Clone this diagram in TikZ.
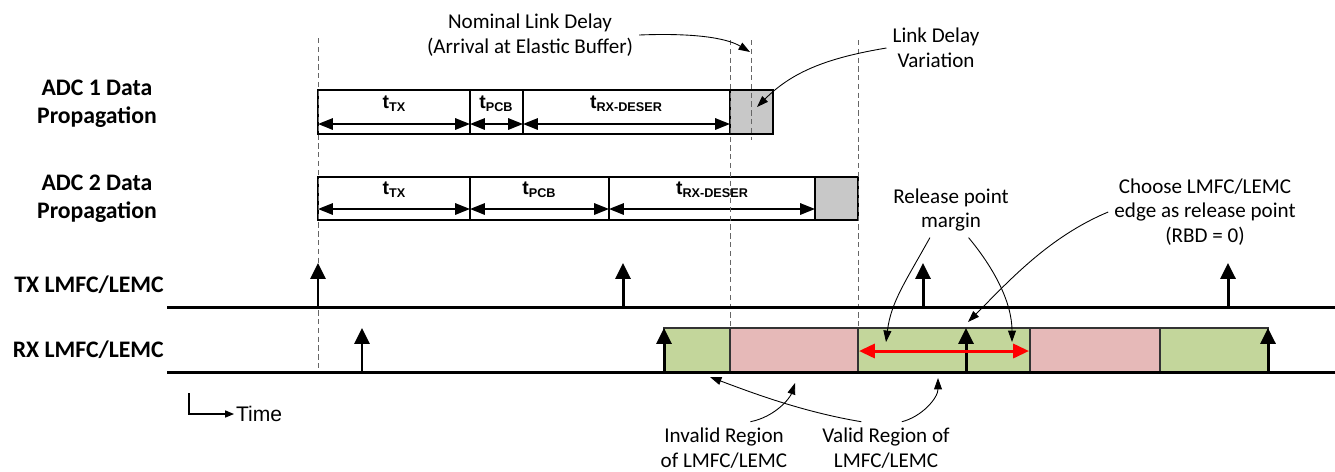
\documentclass[tikz,border=0pt]{standalone}
\usepackage{fontspec}
\setmainfont{Carlito}
\newfontfamily\arialfont{Liberation Sans}
\usetikzlibrary{arrows.meta}

\definecolor{validgreen}{HTML}{C3D69B}
\definecolor{invalidred}{HTML}{E6B9B8}
\definecolor{delaygray}{HTML}{C8C8C8}

% t with a bold subscript, as in the boxes
\newcommand{\tlbl}[1]{{\arialfont\bfseries\fontsize{11}{12}\selectfont t\raisebox{-0.3ex}{\fontsize{7.2}{8}\selectfont #1}}}

\tikzset{
  guide/.style={black!60, line width=0.5pt, dash pattern=on 3pt off 2pt},
  span/.style={{Triangle[length=8.5pt,width=6.5pt]}-{Triangle[length=8.5pt,width=6.5pt]}, line width=1.1pt},
  edgearrow/.style={-{Triangle[length=9pt,width=8.5pt]}, line width=1.7pt},
  note/.style={-{Triangle[length=6.5pt,width=4.5pt]}, line width=0.5pt},
  caption/.style={align=center, font=\fontsize{12}{14}\selectfont},
  rowlbl/.style={align=center, inner sep=0pt, font=\bfseries\fontsize{13.5}{16}\selectfont},
  region/.style={draw=black!80, line width=0.7pt},
  boxline/.style={line width=0.6pt},
}

\begin{document}
\begin{tikzpicture}[x=0.02cm,y=-0.02cm]
                \useasboundingbox (0,0) rectangle (1335,471);

                % Row labels
                \node[rowlbl] (adc1) at (97,104) {ADC 1 Data\\Propagation};
                \node[rowlbl] (adc2) at (97,199) {ADC 2 Data\\Propagation};
                \node[rowlbl, anchor=east] (txlbl) at (164,285) {TX LMFC/LEMC};
                \node[rowlbl, anchor=east] (rxlbl) at (164,350) {RX LMFC/LEMC};

                % RX regions
                \foreach \xa/\xb/\col in {664/730/validgreen, 730/858/invalidred, 858/1030/validgreen, 1030/1160/invalidred, 1160/1268/validgreen}
                    \draw[region, fill=\col] (\xa,328) rectangle (\xb,372);

                % ADC 1 data propagation
                \fill[delaygray] (730,90) rectangle (773,134);
                \draw[boxline] (318,90) rectangle (773,134);
                \foreach \x in {470,523,730}
                    \draw[boxline] (\x,90) -- (\x,134);
                \draw[span] (318,124) -- (470,124);
                \draw[span] (470,124) -- (523,124);
                \draw[span] (523,124) -- (730,124);
                \node (ttx1) at (394,104) {\tlbl{TX}};
                \node (tpcb1) at (496,104) {\tlbl{PCB}};
                \node (trx1) at (626,104) {\tlbl{RX-DESER}};

                % ADC 2 data propagation
                \fill[delaygray] (815,177) rectangle (858,220);
                \draw[boxline] (318,177) rectangle (858,220);
                \foreach \x in {470,609,815}
                    \draw[boxline] (\x,177) -- (\x,220);
                \draw[span] (318,209) -- (470,209);
                \draw[span] (470,209) -- (609,209);
                \draw[span] (609,209) -- (815,209);
                \node (ttx2) at (394,190) {\tlbl{TX}};
                \node (tpcb2) at (539,190) {\tlbl{PCB}};
                \node (trx2) at (712,190) {\tlbl{RX-DESER}};

                % Dashed guides
                \draw[guide] (318,38) -- (318,372);
                \draw[guide] (730,40) -- (730,328);
                \draw[guide] (751,40) -- (751,140);
                \draw[guide] (858,40) -- (858,328);

                % TX and RX LMFC/LEMC
                \draw[line width=1.7pt] (167,307) -- (1335,307);
                \draw[line width=1.7pt] (167,372) -- (1335,372);
                \foreach \x in {318,623,923,1228}
                    \draw[edgearrow] (\x,307) -- (\x,263);
                \foreach \x in {362,664,966,1268}
                    \draw[edgearrow] (\x,372) -- (\x,328);

                % Release point margin
                \draw[red, line width=1.7pt, {Triangle[length=9pt,width=8pt]}-{Triangle[length=9pt,width=8pt]}] (859,351) -- (1029,351);

                % Time axis
                \node[anchor=west, inner sep=1pt, font=\arialfont\fontsize{12}{14}\selectfont] (time) at (234,414) {Time};
                \coordinate (tcorner) at (189,393);
                \draw[line width=0.6pt, -{Triangle[length=5pt,width=4pt]}] (tcorner) |- (time.west);

                % Notes
                \node[caption] (nominal) at (530,35) {Nominal Link Delay\\(Arrival at Elastic Buffer)};
                \coordinate (arrival) at (750,52);
                \draw[note] (nominal.east) .. controls +(50,-2) and +(-25,-15) .. (arrival);

                \node[caption] (ldv) at (936,48) {Link Delay\\Variation};
                \coordinate (ldvtip) at (757,107);
                \draw[note] (ldv.west) .. controls +(-60,10) and +(35,-35) .. (ldvtip);

                \node[caption] (margin) at (951,210) {Release point\\margin};
                \coordinate (marginl) at (886,342);
                \coordinate (marginr) at (1012,342);
                \draw[note] ([xshift=-12pt]margin.south) .. controls +(-25,45) and +(5,-40) .. (marginl);
                \draw[note] ([xshift=10pt]margin.south) .. controls +(25,30) and +(0,-40) .. (marginr);

                \node[caption] (choose) at (1205,212) {Choose LMFC/LEMC\\edge as release point\\(RBD = 0)};
                \coordinate (edgetip) at (968,322);
                \draw[note] (choose.west) .. controls +(-60,25) and +(40,-40) .. (edgetip);

                \node[caption] (invalid) at (724,448) {Invalid Region\\of LMFC/LEMC};
                \node[caption] (valid) at (886,448) {Valid Region of\\LMFC/LEMC};
                \coordinate (invtip) at (795,383);
                \coordinate (validtipa) at (710,377);
                \coordinate (validtipb) at (938,378);
                \draw[note] ([xshift=15pt]invalid.north) .. controls +(25,-5) and +(-5,15) .. (invtip);
                \draw[note] ([xshift=-14pt]valid.north) .. controls +(-60,-10) and +(40,15) .. (validtipa);
                \draw[note] ([xshift=9pt]valid.north) .. controls +(20,-5) and +(0,20) .. (validtipb);
\end{tikzpicture}
\end{document}
